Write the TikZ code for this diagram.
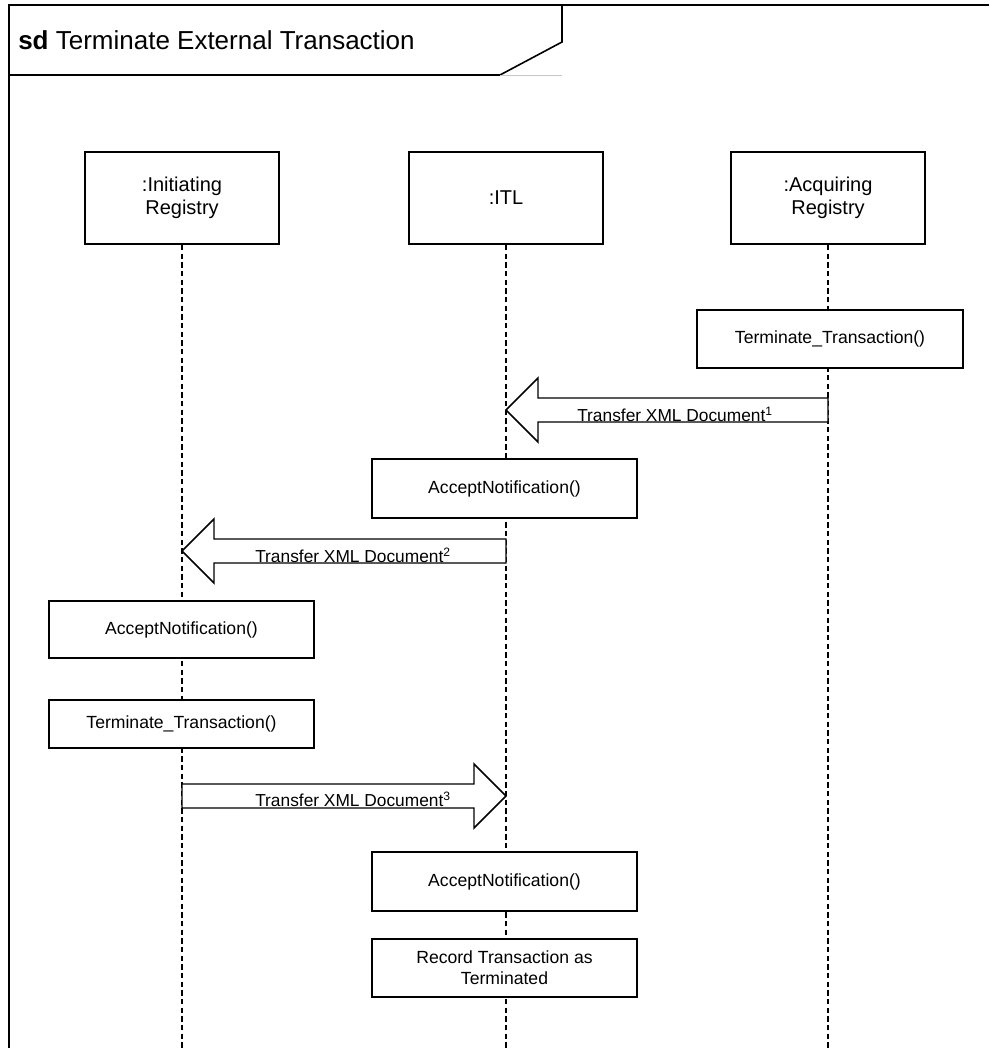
\documentclass[tikz,border=0pt]{standalone}
\usepackage{fontspec}
\setmainfont{Liberation Sans}
\usetikzlibrary{calc}

% Hollow block arrow from #1 (tail) to #2 (tip), drawn over the lifelines
\newcommand{\blockmsg}[2]{%
  \draw[fatarrow]
    ($(#1)+(0,-12)$) -- ($(#2)!24pt!(#1)+(0,-12)$) -- ($(#2)!24pt!(#1)+(0,-32)$)
    -- (#2) -- ($(#2)!24pt!(#1)+(0,32)$) -- ($(#2)!24pt!(#1)+(0,12)$)
    -- ($(#1)+(0,12)$) -- cycle;}

\begin{document}
\begin{tikzpicture}[x=0.75pt,y=-0.75pt,
  frameline/.style={line width=1.2pt},
  lifeline/.style={line width=0.9pt, dash pattern=on 4pt off 2.5pt},
  party/.style={draw, fill=white, line width=1.3pt, minimum width=145pt,
    minimum height=69pt, align=center, inner sep=0pt,
    font=\fontsize{15}{17}\selectfont},
  actbox/.style={draw, fill=white, line width=1.3pt, minimum width=199pt,
    minimum height=44pt, align=center, inner sep=0pt,
    font=\fontsize{13.2}{15.8}\selectfont},
  fatarrow/.style={draw, fill=white, line width=1.1pt, line join=miter},
  msg/.style={font=\fontsize{13}{15}\selectfont, anchor=base west, inner sep=0pt}
]
\useasboundingbox (0,0) rectangle (989,1048);
\coordinate (bottom) at (0,1048);

% diagram frame and its name tab
\draw[frameline] (9,1048) -- (9,5) -- (989,5);
\draw[frameline] (9,75) -- (500,75) -- (562,42) -- (562,5);
\draw[gray!45, line width=0.6pt] (500,75) -- (562,75);
\node[anchor=base west, inner sep=0pt, font=\fontsize{19.5}{22}\selectfont] (title)
  at (18,50) {\textbf{sd} Terminate External Transaction};

% participants
\node[party] (ir)  at (182,198) {:Initiating\\Registry};
\node[party] (itl) at (506,198) {:ITL};
\node[party] (ar)  at (828,198) {:Acquiring\\Registry};

% lifelines
\draw[lifeline] (ir.south)  -- (ir.south |- bottom);
\draw[lifeline] (itl.south) -- (itl.south |- bottom);
\draw[lifeline] (ar.south)  -- (ar.south |- bottom);

% message anchors on the lifelines
\coordinate (m1t) at (ar.south |- 0,410);
\coordinate (m1h) at (itl.south |- 0,410);
\coordinate (m2t) at (itl.south |- 0,551);
\coordinate (m2h) at (ir.south |- 0,551);
\coordinate (m3t) at (ir.south |- 0,796);
\coordinate (m3h) at (itl.south |- 0,796);

% activations and messages
\node[actbox, minimum height=43.5pt] (tt1) at (830,339) {Terminate\_Transaction()};

\blockmsg{m1t}{m1h}
\node[msg] (l1) at (577,421) {Transfer XML Document\textsuperscript{1}};

\node[actbox] (an1) at (504.5,488.5) {AcceptNotification()};

\blockmsg{m2t}{m2h}
\node[msg] (l2) at (255,562) {Transfer XML Document\textsuperscript{2}};

\node[actbox, minimum height=43pt] (an2) at (181.5,629.5) {AcceptNotification()};
\node[actbox, minimum height=36pt] (tt2) at (181.5,724) {Terminate\_Transaction()};

\blockmsg{m3t}{m3h}
\node[msg] (l3) at (255,806) {Transfer XML Document\textsuperscript{3}};

\node[actbox] (an3) at (504.5,881.5) {AcceptNotification()};
\node[actbox, minimum height=43.5pt] (rec) at (504.5,968) {Record Transaction as\\Terminated};
\end{tikzpicture}
\end{document}
